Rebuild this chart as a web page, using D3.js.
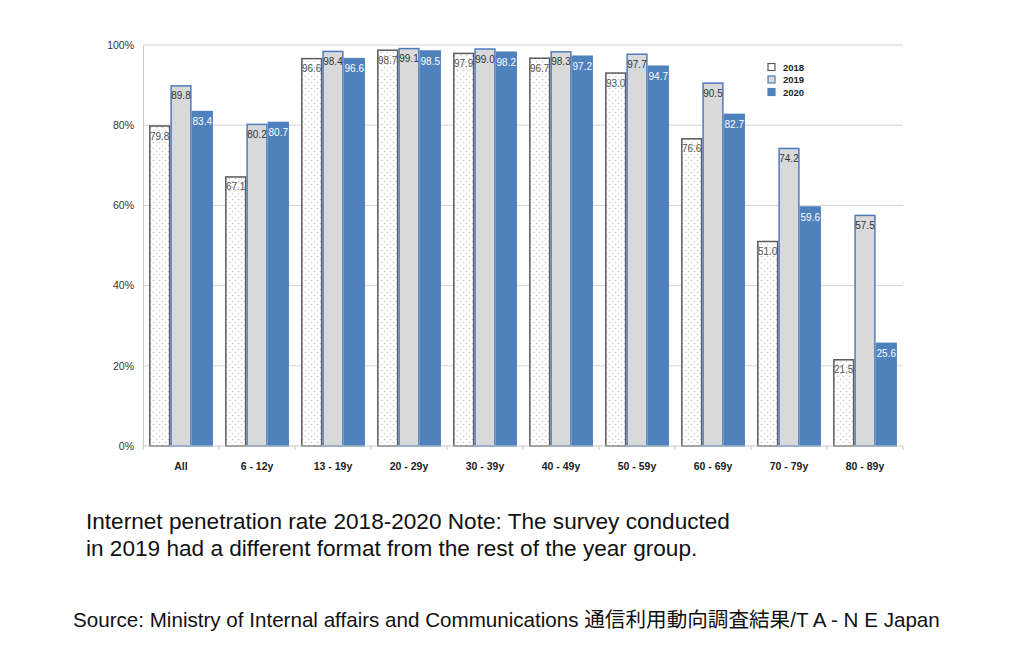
<!DOCTYPE html>
<html>
<head>
<meta charset="utf-8">
<script src="https://cdn.jsdelivr.net/npm/d3@7"></script>
<style>
  html, body { margin: 0; padding: 0; background: #fff; }
  svg { display: block; font-family: "Liberation Sans", Arial, Helvetica, sans-serif; }
</style>
</head>
<body>
<svg id="chart" width="1024" height="656"></svg>
<script>
// Categorias e séries
const categories = ['All', '6 - 12y', '13 - 19y', '20 - 29y', '30 - 39y', '40 - 49y', '50 - 59y', '60 - 69y', '70 - 79y', '80 - 89y'];
const years = ['2018', '2019', '2020'];
const v2018 = [79.8, 67.1, 96.6, 98.7, 97.9, 96.7, 93.0, 76.6, 51.0, 21.5];
const v2019 = [89.8, 80.2, 98.4, 99.1, 99.0, 98.3, 97.7, 90.5, 74.2, 57.5];
const v2020 = [83.4, 80.7, 96.6, 98.5, 98.2, 97.2, 94.7, 82.7, 59.6, 25.6];
const yTicks = [0, 20, 40, 60, 80, 100];

const caption = [
  'Internet penetration rate 2018-2020 Note: The survey conducted',
  'in 2019 had a different format from the rest of the year group.'
];
const source = 'Source: Ministry of Internal affairs and Communications 通信利用動向調査結果/T A - N E Japan';

const series = [
  { year: '2018', values: v2018, fill: 'url(#dots)', stroke: '#5a5a5a', label: '#555' },
  { year: '2019', values: v2019, fill: '#d9d9d9', stroke: '#4f7bbd', label: '#333' },
  { year: '2020', values: v2020, fill: '#4f81bd', stroke: '#4f81bd', label: '#fff' },
];

const M = { left: 143, right: 903, top: 45, bottom: 446 };
const svg = d3.select('#chart');

// Padrão pontilhado do 2018
const defs = svg.append('defs');
const pat = defs.append('pattern').attr('id', 'dots')
  .attr('patternUnits', 'userSpaceOnUse').attr('width', 6).attr('height', 6);
pat.append('rect').attr('width', 6).attr('height', 6).attr('fill', '#fff');
pat.append('circle').attr('cx', 1.5).attr('cy', 1.5).attr('r', 0.8).attr('fill', '#c8c8c8');
pat.append('circle').attr('cx', 4.5).attr('cy', 4.5).attr('r', 0.8).attr('fill', '#c8c8c8');

const x0 = d3.scaleBand().domain(categories).range([M.left, M.right])
  .paddingInner(0.16).paddingOuter(0.08);
const x1 = d3.scaleBand().domain(years).range([0, x0.bandwidth()]);
const y = d3.scaleLinear().domain([0, 100]).range([M.bottom, M.top]);

// Grid
const grid = svg.append('g');
grid.selectAll('line').data(yTicks.filter(t => t > 0)).enter().append('line')
  .attr('x1', M.left).attr('x2', M.right)
  .attr('y1', d => y(d)).attr('y2', d => y(d))
  .attr('stroke', '#d4d4d4').attr('stroke-width', 1);

// Y axis
const yAxis = svg.append('g').attr('transform', `translate(${M.left},0)`)
  .call(d3.axisLeft(y).tickValues(yTicks).tickFormat(d => d + '%').tickSize(0).tickPadding(9));
yAxis.select('.domain').attr('stroke', '#c8c8c8');
yAxis.selectAll('text').attr('font-size', 10.5).attr('fill', '#333')
  .attr('font-family', '"Liberation Sans", Arial, sans-serif');

// Bars
const groups = svg.append('g').selectAll('g').data(categories).enter().append('g')
  .attr('transform', d => `translate(${x0(d)},0)`);

series.forEach(s => {
  groups.append('rect')
    .attr('x', x1(s.year) + 0.75)
    .attr('width', x1.bandwidth() - 1.5)
    .attr('y', (d, i) => y(s.values[i]))
    .attr('height', (d, i) => M.bottom - y(s.values[i]))
    .attr('fill', s.fill)
    .attr('stroke', s.stroke)
    .attr('stroke-width', 1.5);
  groups.append('text')
    .attr('x', x1(s.year) + x1.bandwidth() / 2)
    .attr('y', (d, i) => y(s.values[i]) + 13.5)
    .attr('text-anchor', 'middle')
    .attr('font-size', 10)
    .attr('fill', s.label)
    .text((d, i) => s.values[i].toFixed(1));
});

// X axis
const xAxis = svg.append('g').attr('transform', `translate(0,${M.bottom})`);
xAxis.append('line').attr('x1', M.left).attr('x2', M.right)
  .attr('stroke', '#c8c8c8');
const step = x0.step();
xAxis.selectAll('line.tick').data(d3.range(categories.length + 1)).enter().append('line')
  .attr('class', 'tick')
  .attr('x1', i => M.left + i * step).attr('x2', i => M.left + i * step)
  .attr('y1', 0).attr('y2', 4).attr('stroke', '#c8c8c8');
xAxis.selectAll('text').data(categories).enter().append('text')
  .attr('x', d => x0(d) + x0.bandwidth() / 2)
  .attr('y', 24)
  .attr('text-anchor', 'middle')
  .attr('font-size', 10.5).attr('font-weight', 'bold').attr('fill', '#222')
  .text(d => d);

// Legend
const legend = svg.append('g').attr('transform', 'translate(768,67)');
series.forEach((s, i) => {
  const g = legend.append('g').attr('transform', `translate(0,${i * 12.5})`);
  g.append('rect').attr('x', 0).attr('y', -3.5).attr('width', 7).attr('height', 7)
    .attr('fill', s.year === '2018' ? '#fff' : s.fill)
    .attr('stroke', s.stroke).attr('stroke-width', 1.2);
  g.append('text').attr('x', 15).attr('y', 3.5)
    .attr('font-size', 9.5).attr('font-weight', 'bold').attr('fill', '#222')
    .text(s.year);
});

// Caption
svg.selectAll('text.caption').data(caption).enter().append('text')
  .attr('class', 'caption')
  .attr('x', 86).attr('y', (d, i) => 529 + i * 27)
  .attr('font-size', 22.6).attr('fill', '#111')
  .text(d => d);

svg.append('text')
  .attr('x', 73).attr('y', 627)
  .attr('font-size', 20.6).attr('fill', '#111')
  .attr('font-family', '"Liberation Sans", Arial, "Noto Sans CJK JP", sans-serif')
  .text(source);
</script>
</body>
</html>
